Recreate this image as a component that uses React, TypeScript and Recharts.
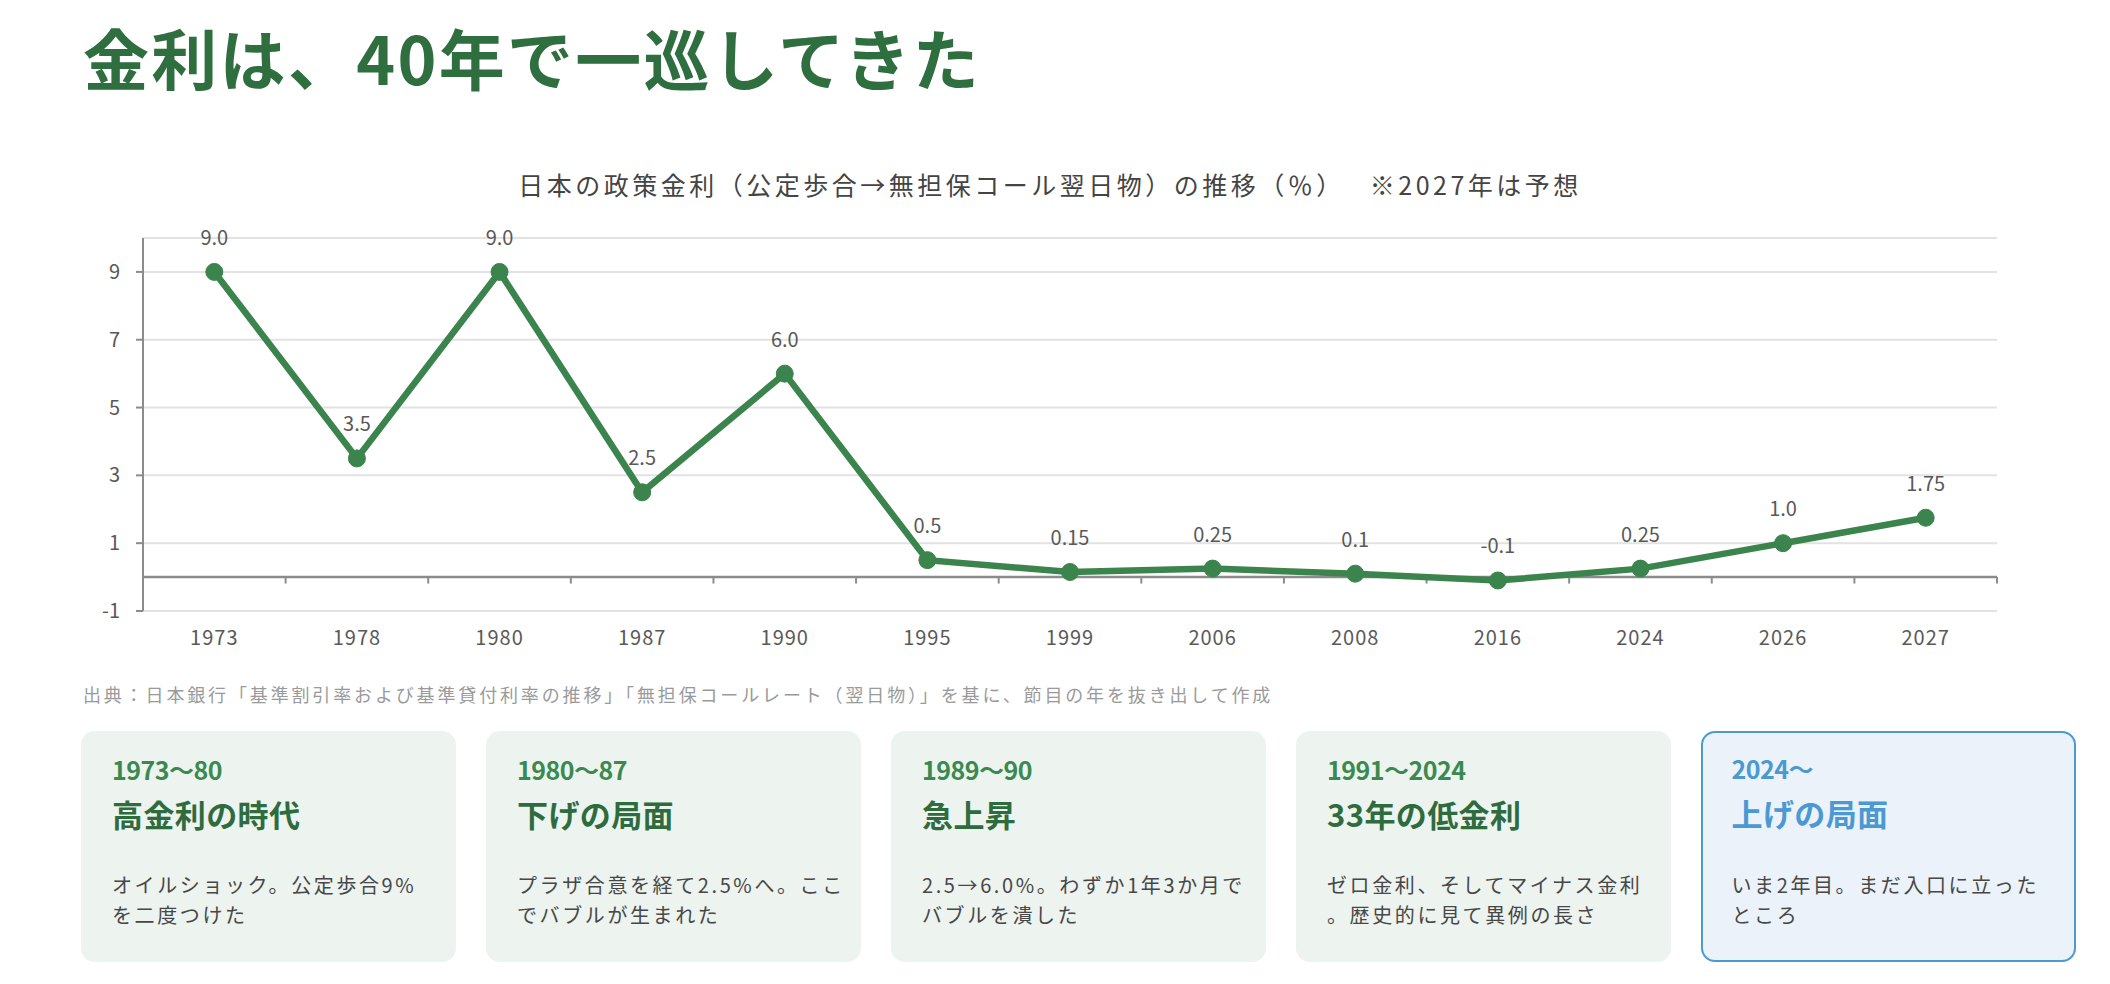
import React from "react";
import {
  CartesianGrid,
  LabelList,
  Line,
  LineChart,
  ReferenceLine,
  XAxis,
  YAxis,
} from "recharts";

const years = ["1973", "1978", "1980", "1987", "1990", "1995", "1999", "2006", "2008", "2016", "2024", "2026", "2027"];
const rates = [9.0, 3.5, 9.0, 2.5, 6.0, 0.5, 0.15, 0.25, 0.1, -0.1, 0.25, 1.0, 1.75];
const rateLabels = ["9.0", "3.5", "9.0", "2.5", "6.0", "0.5", "0.15", "0.25", "0.1", "-0.1", "0.25", "1.0", "1.75"];
const yTicks = [-1, 1, 3, 5, 7, 9];

const cardPeriods = ["1973〜80", "1980〜87", "1989〜90", "1991〜2024", "2024〜"];
const cardTitles = ["高金利の時代", "下げの局面", "急上昇", "33年の低金利", "上げの局面"];
const cardLines = [
  ["オイルショック。公定歩合9%", "を二度つけた"],
  ["プラザ合意を経て2.5%へ。ここ", "でバブルが生まれた"],
  ["2.5→6.0%。わずか1年3か月で", "バブルを潰した"],
  ["ゼロ金利、そしてマイナス金利", "。歴史的に見て異例の長さ"],
  ["いま2年目。まだ入口に立った", "ところ"],
];

const data = years.map((year, i) => ({ i, year, rate: rates[i], label: rateLabels[i] }));

const FONT = '"Noto Sans CJK JP", "Noto Sans", sans-serif';
const GREEN = "#3c844d";
const AXIS = "#8c8c8c";

function Card({ idx }: { idx: number }) {
  const blue = idx === 4;
  const left = blue ? 28.5 : 31;
  return (
    <div
      style={{
        position: "relative",
        width: 375,
        height: 231,
        boxSizing: "border-box",
        borderRadius: 14,
        background: blue ? "#ebf2f9" : "#edf3ef",
        border: blue ? "2.5px solid #4b9ad3" : "none",
        flex: "none",
      }}
    >
      <div
        style={{
          position: "absolute",
          left,
          top: blue ? 23 : 25.5,
          fontSize: 25,
          lineHeight: 1,
          fontWeight: 700,
          letterSpacing: -0.5,
          color: blue ? "#4a99d2" : "#3a8a4f",
        }}
      >
        {cardPeriods[idx]}
      </div>
      <div
        style={{
          position: "absolute",
          left,
          top: blue ? 64 : 66.5,
          fontSize: 31,
          lineHeight: 1,
          fontWeight: 700,
          letterSpacing: 0.4,
          color: blue ? "#4a99d2" : "#2e6c3e",
        }}
      >
        {cardTitles[idx]}
      </div>
      <div
        style={{
          position: "absolute",
          left,
          top: blue ? 136.5 : 139,
          fontSize: 20,
          lineHeight: "30px",
          letterSpacing: 2.6,
          color: "#474747",
          whiteSpace: "nowrap",
        }}
      >
        {cardLines[idx].map((t, k) => (
          <div key={k}>{t}</div>
        ))}
      </div>
    </div>
  );
}

export default function App() {
  return (
    <div
      style={{
        position: "absolute",
        left: 0,
        top: 0,
        width: 2110,
        height: 984,
        background: "#ffffff",
        fontFamily: FONT,
        overflow: "hidden",
      }}
    >
      <div style={{ position: "absolute", left: 0, top: 0 }}>
        <LineChart
          width={2110}
          height={680}
          data={data}
          margin={{ top: 238, right: 113, bottom: 29, left: 83 }}
        >
          <CartesianGrid vertical={false} stroke="#e2e2e2" strokeWidth={2} />
          <XAxis
            dataKey="i"
            type="number"
            domain={[-0.5, 12.5]}
            ticks={years.map((_, i) => i)}
            tickFormatter={(v: number) => years[v]}
            axisLine={false}
            tickLine={false}
            height={40}
            tickMargin={14}
            tick={{ fontSize: 20, fill: "#595959", letterSpacing: 1 }}
          />
          <YAxis
            domain={[-1, 10]}
            ticks={yTicks}
            width={60}
            axisLine={{ stroke: AXIS, strokeWidth: 2 }}
            tickLine={{ stroke: AXIS, strokeWidth: 2 }}
            tickSize={7}
            tickMargin={16}
            tick={{ fontSize: 20, fill: "#595959" }}
          />
          <ReferenceLine y={0} stroke={AXIS} strokeWidth={2.5} />
          {years.map((_, i) => (
            <ReferenceLine
              key={i}
              segment={[
                { x: i + 0.5, y: 0 },
                { x: i + 0.5, y: -0.19 },
              ]}
              stroke={AXIS}
              strokeWidth={2}
              ifOverflow="visible"
            />
          ))}
          <Line
            type="linear"
            dataKey="rate"
            stroke={GREEN}
            strokeWidth={6.5}
            dot={{ r: 8.5, fill: GREEN, stroke: GREEN, strokeWidth: 1 }}
            activeDot={false}
            isAnimationActive={false}
          >
            <LabelList dataKey="label" position="top" offset={27} fill="#595959" fontSize={20} />
          </Line>
        </LineChart>
      </div>

      <div
        style={{
          position: "absolute",
          left: 83,
          top: 23,
          fontSize: 66,
          lineHeight: 1,
          fontWeight: 700,
          color: "#2f6e3f",
          letterSpacing: 2.3,
          whiteSpace: "nowrap",
        }}
      >
        金利は、40年で一巡してきた
      </div>

      <div
        style={{
          position: "absolute",
          left: 0,
          width: 2100,
          top: 171.5,
          fontSize: 25,
          lineHeight: 1,
          letterSpacing: 3.5,
          color: "#444444",
          textAlign: "center",
          whiteSpace: "pre",
        }}
      >
        {"日本の政策金利（公定歩合→無担保コール翌日物）の推移（％）　 ※2027年は予想"}
      </div>

      <div
        style={{
          position: "absolute",
          left: 83,
          top: 685,
          fontSize: 18,
          lineHeight: 1,
          letterSpacing: 2.85,
          color: "#9a9a9a",
          whiteSpace: "nowrap",
        }}
      >
        出典：日本銀行「基準割引率および基準貸付利率の推移」「無担保コールレート（翌日物）」を基に、節目の年を抜き出して作成
      </div>

      <div style={{ position: "absolute", left: 81, top: 731, display: "flex", gap: 30 }}>
        {cardTitles.map((_, i) => (
          <Card key={i} idx={i} />
        ))}
      </div>
    </div>
  );
}
